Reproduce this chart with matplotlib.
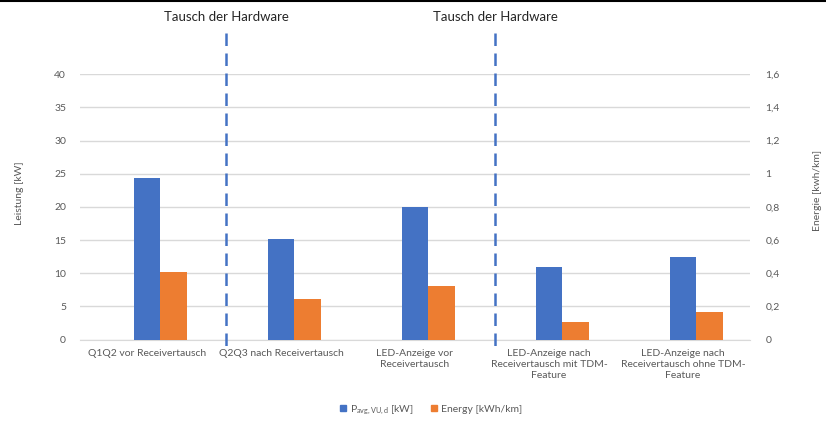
import matplotlib
matplotlib.use("Agg")
import matplotlib.pyplot as plt
from matplotlib.lines import Line2D
from matplotlib.transforms import blended_transform_factory
import numpy as np

# ---- data ----
categories = [
    "Q1Q2 vor Receivertausch",
    "Q2Q3 nach Receivertausch",
    "LED-Anzeige vor\nReceivertausch",
    "LED-Anzeige nach\nReceivertausch mit TDM-\nFeature",
    "LED-Anzeige nach\nReceivertausch ohne TDM-\nFeature",
]
leistung_kw = [24.4, 15.1, 20.0, 11.0, 12.4]
energie_kwh_km = [0.41, 0.245, 0.325, 0.105, 0.163]
left_ticks = [0, 5, 10, 15, 20, 25, 30, 35, 40]
right_ticks = [0, 0.2, 0.4, 0.6, 0.8, 1.0, 1.2, 1.4, 1.6]
right_tick_labels = ["0", "0,2", "0,4", "0,6", "0,8", "1", "1,2", "1,4", "1,6"]
annotation_text = "Tausch der Hardware"
divider_positions = [0.59, 2.60]

FONT = "Lato"
plt.rcParams["font.family"] = [FONT, "DejaVu Sans"]
plt.rcParams["mathtext.fontset"] = "custom"
plt.rcParams["mathtext.rm"] = FONT
plt.rcParams["mathtext.it"] = FONT

BLUE = "#4472C4"
ORANGE = "#ED7D31"
GRAY = "#595959"
GRID = "#D9D9D9"

fig = plt.figure(figsize=(8.26, 4.23), dpi=100)
ax = fig.add_axes([80 / 826, 1 - 339.5 / 423, 670 / 826, (339.5 - 74.3) / 423])
ax2 = ax.twinx()

x = np.arange(len(categories))
w = 0.2
ax.bar(x, leistung_kw, width=w, color=BLUE, zorder=3)
ax2.bar(x + w, energie_kwh_km, width=w, color=ORANGE, zorder=3)

ax.set_xlim(-0.5, len(categories) - 0.5)
ax.set_ylim(0, 40)
ax2.set_ylim(0, 1.6)
ax.set_yticks(left_ticks)
ax.set_yticklabels([str(t) for t in left_ticks])
ax2.set_yticks(right_ticks)
ax2.set_yticklabels(right_tick_labels)
ax.set_xticks(x)
ax.set_xticklabels(categories, linespacing=1.25)

for a in (ax, ax2):
    for s in a.spines.values():
        s.set_visible(False)
    a.tick_params(length=0, labelsize=7.5, colors=GRAY)
ax.tick_params(axis="y", pad=10)
ax2.tick_params(axis="y", pad=11)
ax.tick_params(axis="x", pad=7)
ax.yaxis.grid(True, color=GRID, linewidth=1, zorder=0)
ax.set_axisbelow(True)
ax.spines["bottom"].set_visible(True)
ax.spines["bottom"].set_color(GRID)

fig.text(20 / 826, 1 - 193 / 423, "Leistung [kW]", rotation=90, ha="center", va="center",
         fontsize=7.5, color=GRAY)
fig.text(818 / 826, 1 - 190 / 423, "Energie [kwh/km]", rotation=90, ha="center", va="center",
         fontsize=7.5, color=GRAY)

trans = blended_transform_factory(ax.transData, fig.transFigure)
for xp in divider_positions:
    ln = Line2D([xp, xp], [1 - 33 / 423, 1 - 346 / 423], transform=trans, color=BLUE,
                linewidth=1.8, linestyle=(0, (5, 3)), clip_on=False, zorder=5)
    fig.add_artist(ln)
    fig.text(0, 1 - 17 / 423, annotation_text, transform=trans, ha="center", va="center",
             fontsize=9.5, color="#262626")
# fix text x positions (fig.text with blended transform)
for t, xp in zip([tt for tt in fig.texts if tt.get_text() == annotation_text], divider_positions):
    t.set_x(xp)

fig.add_artist(Line2D([0, 1], [1 - 1 / 423, 1 - 1 / 423], transform=fig.transFigure,
                      color="black", linewidth=1.5))

handles = [
    Line2D([], [], marker="s", linestyle="none", markersize=5, color=BLUE),
    Line2D([], [], marker="s", linestyle="none", markersize=5, color=ORANGE),
]
labels = [r"$\mathrm{P}_{\mathrm{avg,VU,d}}$ [kW]", "Energy [kWh/km]"]
fig.legend(handles, labels, loc="center", bbox_to_anchor=(430 / 826, 1 - 410 / 423), ncol=2,
           frameon=False, fontsize=7.5, labelcolor=GRAY, handletextpad=0.1, columnspacing=1.5,
           handlelength=1.0)

fig.savefig("out.png", dpi=100)
